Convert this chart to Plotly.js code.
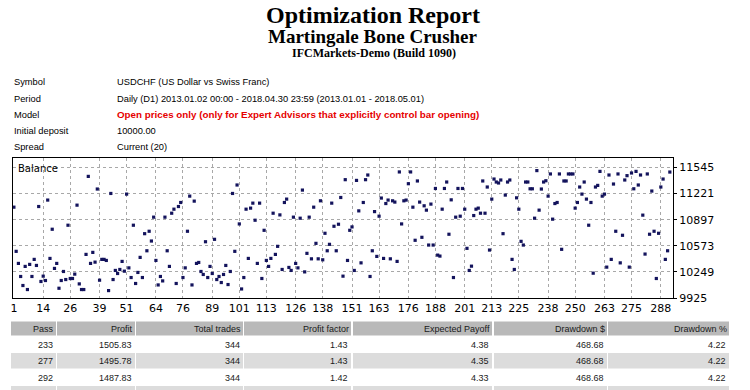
<!DOCTYPE html>
<html>
<head>
<meta charset="utf-8">
<script src="https://cdn.plot.ly/plotly-3.0.1.min.js"></script>
<style>
  html, body { margin: 0; padding: 0; background: #ffffff; }
  #chart { width: 750px; height: 390px; }
</style>
</head>
<body>
<div id="chart"></div>
<script>
// ---------- data ----------
const reportTitle = "Optimization Report";
const expertName = "Martingale Bone Crusher";
const serverName = "IFCMarkets-Demo (Build 1090)";

const infoLabels = ["Symbol", "Period", "Model", "Initial deposit", "Spread"];
const infoValues = [
  "USDCHF (US Dollar vs Swiss Franc)",
  "Daily (D1) 2013.01.02 00:00 - 2018.04.30 23:59 (2013.01.01 - 2018.05.01)",
  "Open prices only (only for Expert Advisors that explicitly control bar opening)",
  "10000.00",
  "Current (20)"
];

// balance of each optimization pass (pass 1 .. 292)
const balance = [
  11052, 10504, 10354, 10192, 10080, 10317, 10030, 10342, 10192, 10404,
  10329, 11060, 10130, 10196, 10142, 11140, 10416, 10778, 10292, 10354,
  10046, 10142, 10254, 10154, 10828, 10167, 10167, 10221, 11077, 10100,
  10030, 10030, 10466, 11434, 10354, 10491, 10370, 11277, 10146, 10404,
  10404, 10391, 10017, 11222, 10154, 10267, 10229, 10279, 10379, 10258,
  11214, 10299, 10179, 10828, 10105, 10242, 10429, 10179, 10723, 10511,
  10753, 10632, 10928, 10391, 10087, 10192, 10137, 10928, 10511, 10317,
  10977, 11027, 10105, 11060, 11110, 10179, 10299, 10753, 11189, 10087,
  11127, 10354, 10366, 10254, 10217, 10623, 10179, 10317, 10229, 10653,
  10154, 10192, 10117, 10217, 10329, 10092, 10254, 11222, 10504, 11327,
  10844, 10037, 10179, 11027, 10416, 11040, 11102, 10890, 10354, 11102,
  10167, 10765, 10391, 10317, 10416, 10977, 10466, 10566, 10956, 10279,
  11110, 11152, 10304, 10267, 10928, 10354, 10299, 10915, 11264, 10249,
  10479, 10928, 10411, 11052, 10603, 10411, 11131, 10399, 10728, 10511,
  10591, 11102, 10815, 10511, 10840, 11172, 10196, 11393, 10391, 10765,
  10807, 10267, 11384, 11006, 10361, 11110, 11393, 11451, 10192, 10511,
  10997, 10441, 10940, 11165, 10416, 11097, 11140, 10411, 11131, 11115,
  10379, 11489, 10844, 11131, 11140, 11343, 11489, 11052, 10641, 11377,
  11115, 10678, 11069, 11015, 10582, 11090, 10582, 11284, 10457, 10445,
  11027, 11284, 11364, 10716, 11143, 10179, 10928, 11284, 10940, 11284,
  11027, 10541, 10267, 10320, 10948, 11027, 11040, 10977, 11377, 10977,
  11302, 10520, 11152, 11401, 11364, 11352, 11389, 10723, 11202, 11364,
  11389, 10404, 10279, 11168, 11027, 10628, 10582, 11364, 11364, 11280,
  11280, 10915, 11505.83, 11015, 11277, 11364, 11380, 11189, 11464, 10903,
  11097, 11110, 11464, 10529, 11377, 11377, 11464, 11464, 11464, 11040,
  11110, 11302, 11214, 11364, 11152, 10828, 11110, 10233, 11302, 11322,
  11496, 11189, 11214, 10308, 11451, 10404, 11339, 10753, 11464, 10361,
  10703, 11389, 11443, 10308, 11476, 11280, 11495.78, 11327, 11451, 10953,
  10470, 11464, 10716, 11252, 10753, 10167, 10728, 11302, 11401, 10404,
  10511, 11487.83
];
const passNumbers = balance.map((_, i) => i + 1);

const xTickLabels = [1, 14, 26, 39, 51, 64, 76, 89, 101, 113, 126, 138, 151, 163, 176, 188, 201, 213, 225, 238, 250, 263, 275, 288];
const yTickLabels = [9925, 10249, 10573, 10897, 11221, 11545];

const tableHeader = ["Pass", "Profit", "Total trades", "Profit factor", "Expected Payoff", "Drawdown $", "Drawdown %"];
const tableRows = [
  ["233", "1505.83", "344", "1.43", "4.38", "468.68", "4.22"],
  ["277", "1495.78", "344", "1.43", "4.35", "468.68", "4.22"],
  ["292", "1487.83", "344", "1.42", "4.33", "468.68", "4.22"]
];

// ---------- layout helpers (pixel -> paper) ----------
const L = 13, R = 673, TOP = 158, BOT = 298;
const PW = R - L, PH = BOT - TOP;
const px2x = px => (px - L) / PW;
const py2y = py => (BOT - py) / PH;

function txt(text, px, py, o) {
  o = o || {};
  return {
    text: text, x: px2x(px), y: py2y(py), xref: 'paper', yref: 'paper',
    xanchor: o.anchor || 'left', yanchor: 'middle', showarrow: false,
    borderpad: 0,
    font: { family: o.family || 'Liberation Sans, Arial, sans-serif', size: o.size || 9, color: o.color || '#000000' }
  };
}
function rect(x0, y0, x1, y1, fill) {
  return {
    type: 'rect', xref: 'paper', yref: 'paper', layer: 'below',
    x0: px2x(x0), x1: px2x(x1), y0: py2y(y0), y1: py2y(y1),
    fillcolor: fill, line: { width: 0 }
  };
}

const annotations = [];
const shapes = [];

// titles
const serif = 'Liberation Serif, Times New Roman, serif';
annotations.push(txt('<b>' + reportTitle + '</b>', 373, 15, { anchor: 'center', family: serif, size: 24 }));
annotations.push(txt('<b>' + expertName + '</b>', 373, 36, { anchor: 'center', family: serif, size: 19 }));
annotations.push(txt('<b>' + serverName + '</b>', 373.5, 53, { anchor: 'center', family: serif, size: 12 }));

// info rows
const infoY = [82, 98.5, 114.5, 130.5, 147];
infoLabels.forEach((lab, i) => {
  annotations.push(txt(lab, 13, infoY[i], { size: 9.3 }));
  if (i === 2) {
    annotations.push(txt('<b>' + infoValues[i] + '</b>', 116, infoY[i], { size: 9.8, color: '#e60000' }));
  } else {
    annotations.push(txt(infoValues[i], 116, infoY[i], { size: 9.3 }));
  }
});

// chart label
annotations.push(txt('Balance', 16.5, 168, { family: 'DejaVu Sans, Verdana, sans-serif', size: 10 }));

// table
const cols = [[11, 56], [57, 135], [136, 243], [244, 351], [353, 492], [494, 607], [608, 729]];
const rowBands = [[336.5, 352.5], [353, 368.5], [369, 385.5], [386, 394]];
const rowFill = ['#ffffff', '#dcdcdc', '#ffffff', '#dcdcdc'];
cols.forEach(c => {
  shapes.push(rect(c[0], 321.5, c[1], 335.5, '#b9b9b9'));
  rowBands.forEach((b, j) => {
    if (rowFill[j] !== '#ffffff') shapes.push(rect(c[0], b[0], c[1], b[1], rowFill[j]));
  });
});
tableHeader.forEach((h, i) => {
  annotations.push(txt(h, cols[i][1] - 1.5, 328.5, { anchor: 'right', size: 9, color: '#1a1a1a' }));
});
const rowTextY = [345, 361, 377.5];
tableRows.forEach((r, j) => {
  r.forEach((v, i) => {
    annotations.push(txt(v, cols[i][1] - 2, rowTextY[j], { anchor: 'right', size: 9, color: '#1a1a1a' }));
  });
});

// ---------- plot ----------
const tickFont = { family: 'DejaVu Sans, Verdana, sans-serif', size: 11, color: '#000000' };
const trace = {
  type: 'scatter', mode: 'markers',
  x: passNumbers, y: balance,
  marker: { symbol: 'square', size: 3.2, color: '#13135c', line: { width: 0 } },
  hoverinfo: 'none'
};

const layout = {
  width: 750, height: 390,
  margin: { l: L, r: 750 - R, t: TOP, b: 390 - BOT, pad: 0 },
  paper_bgcolor: '#ffffff', plot_bgcolor: '#ffffff',
  showlegend: false,
  xaxis: {
    range: [0.6, 293.4], tickmode: 'array', tickvals: xTickLabels, ticktext: xTickLabels.map(String),
    showgrid: true, gridcolor: '#a8a8a8', griddash: 'dot', gridwidth: 1,
    showline: true, mirror: true, linecolor: '#000000', linewidth: 1,
    zeroline: false, ticks: '', ticklen: 0,
    tickfont: tickFont, fixedrange: true
  },
  yaxis: {
    range: [9925, 11662], side: 'right', tickmode: 'array', tickvals: yTickLabels, ticktext: yTickLabels.map(String),
    showgrid: true, gridcolor: '#a8a8a8', griddash: 'dot', gridwidth: 1,
    showline: true, mirror: true, linecolor: '#000000', linewidth: 1,
    zeroline: false, ticks: 'outside', ticklen: 3, tickcolor: '#000000',
    tickfont: tickFont, fixedrange: true
  },
  annotations: annotations,
  shapes: shapes
};

Plotly.newPlot('chart', [trace], layout, { displayModeBar: false, staticPlot: true });
</script>
</body>
</html>
